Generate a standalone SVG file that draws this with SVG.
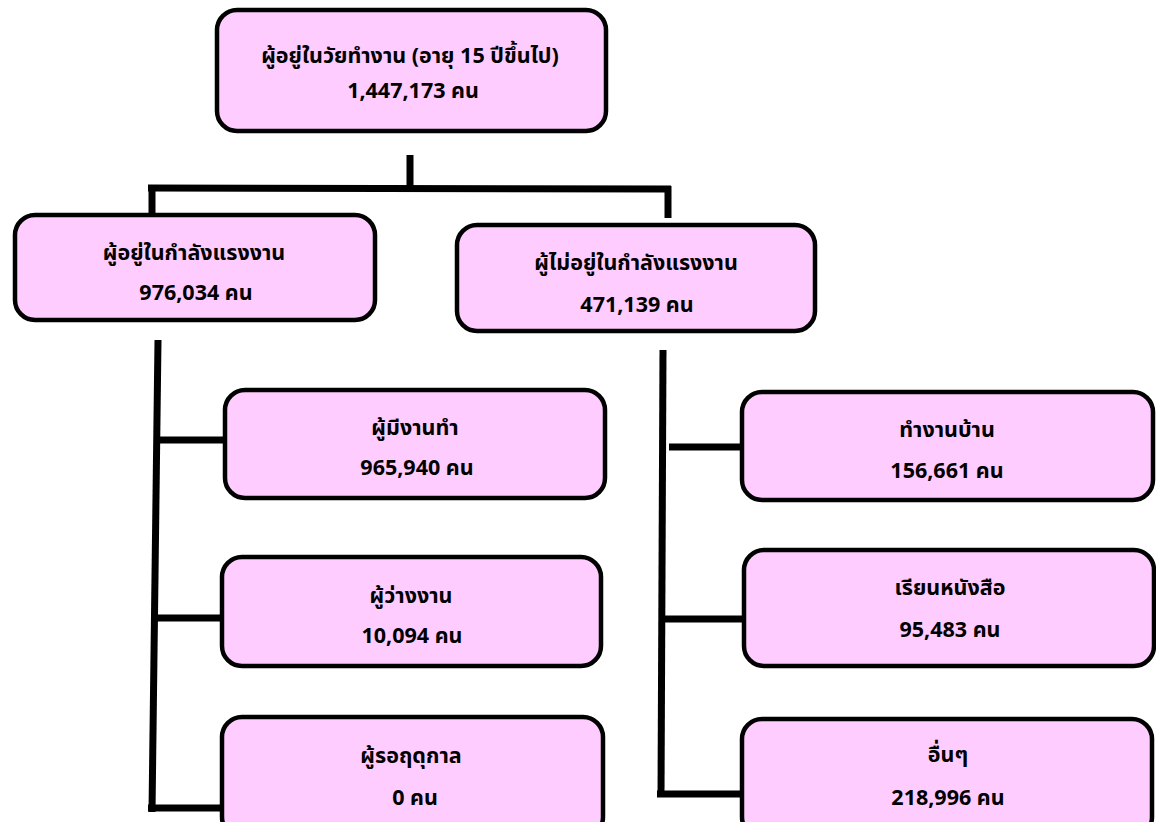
<svg xmlns="http://www.w3.org/2000/svg" width="1156" height="822" viewBox="0 0 1156 822">
<style>
.box{fill:#FFCCFF;stroke:#000;stroke-width:4.5}
.t{font-family:"Noto Sans Thai","Tahoma","Noto Sans","DejaVu Sans",sans-serif;font-size:21.5px;font-weight:bold;fill:#000;text-anchor:middle}
.c{stroke:#000;stroke-width:7;fill:none;stroke-linecap:butt}
</style>
<rect width="1156" height="822" fill="#fff"/>
<g id="connectors">
<line class="c" x1="410" y1="155" x2="410" y2="188"/>
<line class="c" x1="148" y1="188" x2="671" y2="189"/>
<line class="c" x1="152" y1="185" x2="152" y2="214"/>
<line class="c" x1="668" y1="186" x2="668" y2="218"/>
<line class="c" x1="158" y1="340" x2="152" y2="812"/>
<line class="c" x1="158" y1="440" x2="224" y2="440"/>
<line class="c" x1="156" y1="618" x2="221" y2="618"/>
<line class="c" x1="148" y1="808" x2="221" y2="808"/>
<line class="c" x1="663" y1="350" x2="661" y2="797"/>
<line class="c" x1="669" y1="447" x2="741" y2="447"/>
<line class="c" x1="662" y1="619" x2="743" y2="619"/>
<line class="c" x1="657" y1="794" x2="741" y2="794"/>
</g>
<g id="n_top">
<rect class="box" x="217" y="10" width="389" height="121" rx="20"/>
<text class="t" x="410" y="63">ผู้อยู่ในวัยทำงาน (อายุ 15 ปีขึ้นไป)</text>
<text class="t" x="413" y="98">1,447,173 คน</text>
</g>
<g id="n_labor">
<rect class="box" x="15" y="215" width="360" height="105" rx="20"/>
<text class="t" x="194" y="260">ผู้อยู่ในกำลังแรงงาน</text>
<text class="t" x="196" y="300">976,034 คน</text>
</g>
<g id="n_notlabor">
<rect class="box" x="457" y="225" width="358" height="106" rx="20"/>
<text class="t" x="636" y="270">ผู้ไม่อยู่ในกำลังแรงงาน</text>
<text class="t" x="637" y="312">471,139 คน</text>
</g>
<g id="n_employed">
<rect class="box" x="225" y="390" width="380" height="108" rx="20"/>
<text class="t" x="415" y="435">ผู้มีงานทำ</text>
<text class="t" x="417" y="475">965,940 คน</text>
</g>
<g id="n_unemployed">
<rect class="box" x="222" y="557" width="379" height="109" rx="20"/>
<text class="t" x="411" y="603">ผู้ว่างงาน</text>
<text class="t" x="412" y="643">10,094 คน</text>
</g>
<g id="n_seasonal">
<rect class="box" x="222" y="717" width="381" height="120" rx="20"/>
<text class="t" x="411" y="763">ผู้รอฤดุกาล</text>
<text class="t" x="415" y="805">0 คน</text>
</g>
<g id="n_housework">
<rect class="box" x="742" y="392" width="411" height="108" rx="20"/>
<text class="t" x="947" y="437">ทำงานบ้าน</text>
<text class="t" x="947" y="478">156,661 คน</text>
</g>
<g id="n_study">
<rect class="box" x="744" y="550" width="410" height="116" rx="20"/>
<text class="t" x="950" y="595">เรียนหนังสือ</text>
<text class="t" x="950" y="637">95,483 คน</text>
</g>
<g id="n_other">
<rect class="box" x="742" y="719" width="410" height="118" rx="20"/>
<text class="t" x="948" y="762">อื่นๆ</text>
<text class="t" x="948" y="805">218,996 คน</text>
</g>
</svg>
